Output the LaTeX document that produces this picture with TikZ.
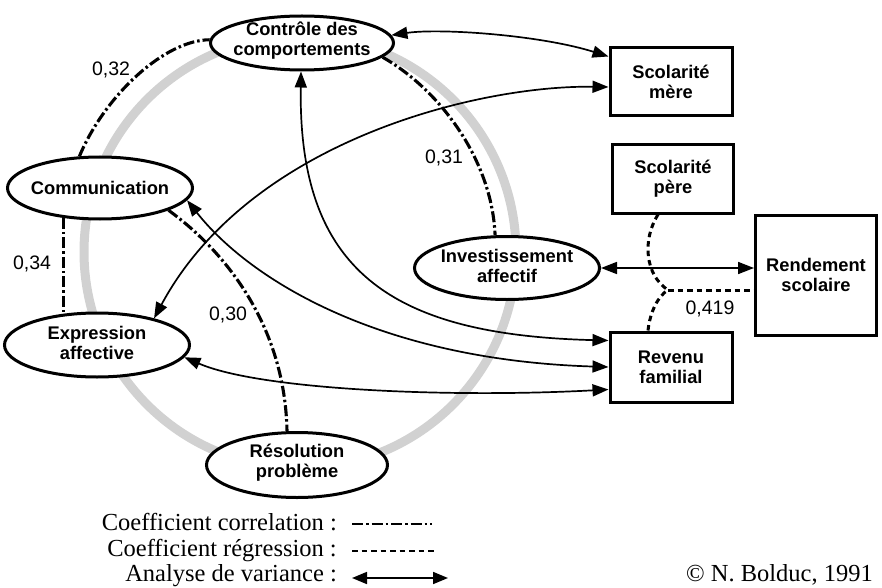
\documentclass[tikz,border=0pt]{standalone}
\usepackage{fontspec}
\setmainfont{Liberation Serif}
\setsansfont{Liberation Sans}
\usetikzlibrary{shapes.geometric,arrows.meta}
\pgfdeclarelayer{ring}
\pgfdeclarelayer{bg}
\pgfsetlayers{ring,bg,main}
\begin{document}
\begin{tikzpicture}[x=1pt,y=-1pt,
  ell/.style={ellipse, draw, line width=3pt, fill=white, inner sep=0pt},
  lbl/.style={font=\sffamily\bfseries\fontsize{18.3}{20}\selectfont, align=center, inner sep=0pt},
  box/.style={rectangle, draw, line width=3pt, fill=white, inner sep=0pt, align=center,
              font=\sffamily\bfseries\fontsize{18.3}{20}\selectfont},
  num/.style={font=\sffamily\fontsize{19.5}{20}\selectfont, inner sep=0pt},
  leg/.style={font=\fontsize{24.5}{26}\selectfont, inner sep=0pt},
  conn/.style={line width=1.7pt},
  dd/.style={line width=3.1pt, dash pattern=on 11pt off 3pt on 2.5pt off 3pt},
  rg/.style={line width=3pt, dash pattern=on 5.5pt off 4pt},
  >={Triangle[length=16pt,width=12pt]}]
\useasboundingbox (0,0) rectangle (882,588);

% ellipses
\node[ell, minimum width=183pt, minimum height=54pt] (ctrl) at (302,43) {};
\node[lbl] (ctrlT) at (302,41) {Contrôle des\\comportements};
\node[ell, minimum width=185pt, minimum height=62pt] (comm) at (100,188) {};
\node[lbl] (commT) at (100,188) {Communication};
\node[ell, minimum width=185pt, minimum height=64pt] (expr) at (97,345) {};
\node[lbl] (exprT) at (97,343) {Expression\\affective};
\node[ell, minimum width=181pt, minimum height=65pt] (reso) at (297,465) {};
\node[lbl] (resoT) at (297,463) {Résolution\\problème};
\node[ell, minimum width=185pt, minimum height=63pt] (inv) at (507,268) {};
\node[lbl] (invT) at (507,266) {Investissement\\affectif};

% boxes
\node[box, minimum width=122pt, minimum height=68pt] (mere) at (671,82) {Scolarité\\mère};
\node[box, minimum width=121pt, minimum height=68pt] (pere) at (673,179) {Scolarité\\père};
\node[box, minimum width=121pt, minimum height=120pt] (rend) at (816,275) {Rendement\\scolaire};
\node[box, minimum width=122pt, minimum height=70pt] (rev) at (671,367) {Revenu\\familial};

% numbers
\node[num] (n32) at (111,70) {0,32};
\node[num] (n34) at (32,264) {0,34};
\node[num] (n31) at (444,158) {0,31};
\node[num] (n30) at (228,315) {0,30};
\node[num] (n419) at (710,309) {0,419};

\begin{pgfonlayer}{ring}
  \draw[black!18, line width=9pt] (300,252) circle[radius=216];
\end{pgfonlayer}

\begin{pgfonlayer}{bg}
  % analyse de variance
  \draw[conn,<->] (ctrl.5) .. controls (440,28) and (540,35) .. ([yshift=-10pt]mere.north west);
  \draw[conn,<->] ([yshift=-5pt]mere.west) .. controls (480,85) and (250,140) .. (expr.25);
  \draw[conn,<->] (ctrl.268) .. controls (298,270) and (390,335) .. ([yshift=-10pt]rev.north west);
  \draw[conn,<->] (comm.-8) .. controls (250,280) and (380,360) .. (rev.west);
  \draw[conn,<->] (expr.-8) .. controls (260,390) and (450,398) .. ([yshift=14pt]rev.south west);
  \draw[conn,<->] (inv.east) -- (inv.east -| rend.west);
  % regression
  \coordinate (J) at (668,290);
  \draw[rg] ([xshift=-15pt]pere.south) .. controls (642,240) and (645,275) .. (J);
  \draw[rg] ([xshift=-23pt]rev.north) .. controls (650,312) and (658,296) .. (J);
  \draw[rg] (J) -- (J -| rend.west);
  % correlation
  \draw[dd] (comm.123) .. controls (105,95) and (165,40) .. (ctrl.178);
  \draw[dd] (ctrl.-10) .. controls (440,90) and (492,160) .. (inv.110);
  \draw[dd] (comm.219) -- (comm.219 |- expr.north);
  \draw[dd] (comm.-18) .. controls (230,255) and (285,330) .. ([xshift=-10pt]reso.north);
\end{pgfonlayer}

% legend
\node[leg, anchor=base east] (l1) at (337,530) {Coefficient correlation :};
\node[leg, anchor=base east] (l2) at (337,556) {Coefficient régression :};
\node[leg, anchor=base east] (l3) at (337,581) {Analyse de variance :};
\coordinate (a1) at (352,524); \coordinate (b1) at (432,524);
\coordinate (a2) at (352,551); \coordinate (b2) at (437,551);
\coordinate (a3) at (352,578); \coordinate (b3) at (448,578);
\draw[dd, line width=2.6pt] (a1) -- (b1);
\draw[rg, line width=2.6pt] (a2) -- (b2);
\draw[conn,<->, >={Triangle[length=15pt,width=12pt]}] (a3) -- (b3);
\node[leg, anchor=base east] (copy) at (873,581) {© N. Bolduc, 1991};
\end{tikzpicture}
\end{document}
